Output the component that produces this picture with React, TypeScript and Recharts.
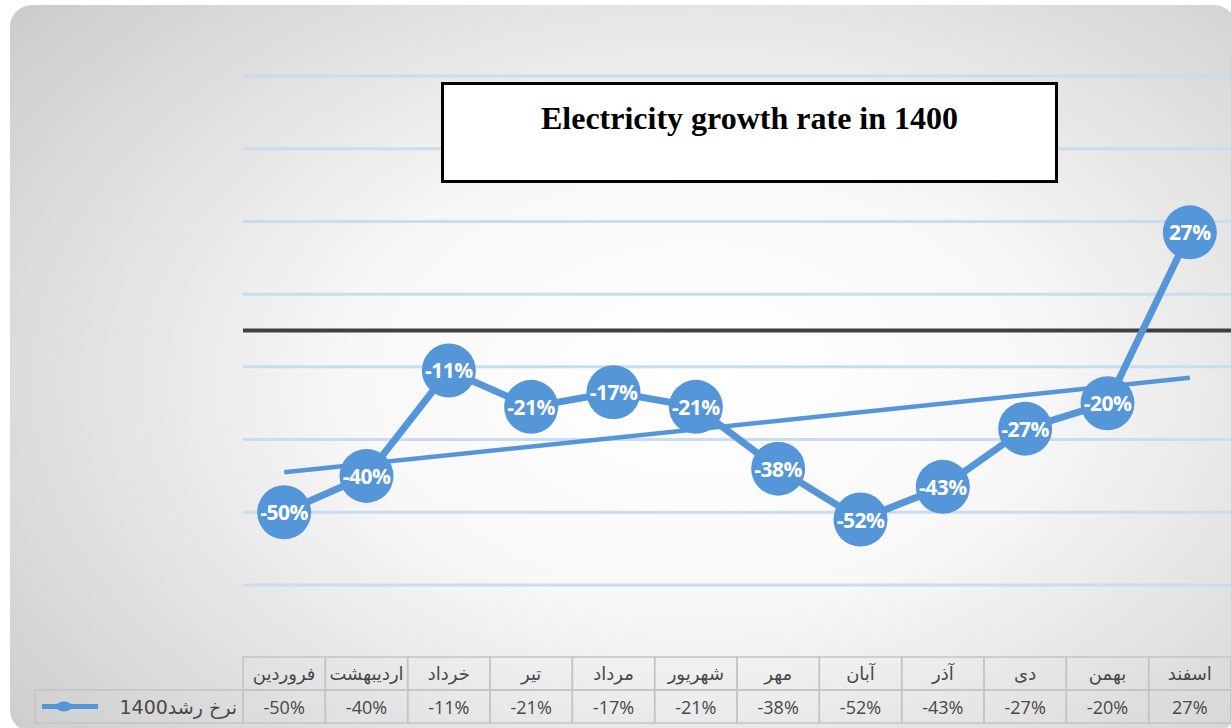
import React from 'react';
import {
  LineChart,
  Line,
  XAxis,
  YAxis,
  CartesianGrid,
  ReferenceLine,
} from 'recharts';

// month names (Persian calendar), left to right as in the table
const months = ['فروردین', 'اردیبهشت', 'خرداد', 'تیر', 'مرداد', 'شهریور', 'مهر', 'آبان', 'آذر', 'دی', 'بهمن', 'اسفند'];
// electricity growth rate 1400, percent
const growth = [-50, -40, -11, -21, -17, -21, -38, -52, -43, -27, -20, 27];
// linear trendline, read at first and last month
const trendStart = -39;
const trendEnd = -13;
const gridTicks = [-70, -50, -30, -10, 10, 30, 50, 70];
const seriesName = 'نرخ رشد1400';
const title = 'Electricity growth rate in 1400';

const data = months.map((m, i) => ({ month: m, rate: growth[i] }));

const W = 1231;
const H = 728;
const PLOT_LEFT = 243;
const PLOT_TOP = 76;
const PLOT_BOTTOM = 585;
const CELL_W = (W - PLOT_LEFT) / months.length;
const TABLE_TOP = 657;
const ROW_H = 33;

const BLUE = '#5596d8';
const GRID = '#c9dcf0';
const BORDER = '#c4c4c4';
const TEXT = '#484848';

const BubbleDot = (props: any) => {
  const { cx, cy, value, index } = props;
  if (cx == null || cy == null) return null;
  return (
    <g key={`dot-${index}`}>
      <circle cx={cx} cy={cy} r={27} fill={BLUE} />
      <text
        x={cx}
        y={cy}
        textAnchor="middle"
        dominantBaseline="central"
        fill="#fff"
        fontFamily="'Open Sans', sans-serif"
        fontWeight={700}
        fontSize={21}
        letterSpacing={-0.5}
      >
        {value}%
      </text>
    </g>
  );
};

const TableTick = (props: any) => {
  const { x, payload, index } = props;
  const left = x - CELL_W / 2;
  return (
    <g>
      <rect x={left} y={TABLE_TOP} width={CELL_W} height={ROW_H} fill="none" stroke={BORDER} strokeWidth={1.5} />
      <rect x={left} y={TABLE_TOP + ROW_H} width={CELL_W} height={ROW_H} fill="none" stroke={BORDER} strokeWidth={1.5} />
      <text
        x={x}
        y={TABLE_TOP + ROW_H / 2}
        textAnchor="middle"
        dominantBaseline="central"
        fill={TEXT}
        fontFamily="'DejaVu Sans', sans-serif"
        fontSize={18}
      >
        {payload.value}
      </text>
      <text
        x={x}
        y={TABLE_TOP + ROW_H * 1.5}
        textAnchor="middle"
        dominantBaseline="central"
        fill={TEXT}
        fontFamily="'Open Sans', sans-serif"
        fontSize={18}
      >
        {growth[index]}%
      </text>
    </g>
  );
};

const App: React.FC = () => {
  return (
    <div style={{ position: 'absolute', left: 0, top: 0, width: W, height: H, overflow: 'hidden', background: '#fff' }}>
      <div
        style={{
          position: 'absolute',
          left: 10,
          top: 5,
          width: 1226,
          height: 727,
          borderRadius: 22,
          background: 'radial-gradient(ellipse 72% 80% at 56% 52%, #ffffff 0%, #f8f8f8 38%, #dadada 80%, #cccccc 100%)',
        }}
      />
      <div style={{ position: 'absolute', left: 0, top: 0 }}>
        <LineChart
          width={W}
          height={H}
          data={data}
          margin={{ top: PLOT_TOP, right: 0, left: PLOT_LEFT, bottom: 0 }}
        >
          <CartesianGrid vertical={false} stroke={GRID} strokeWidth={3} />
          <XAxis
            dataKey="month"
            height={H - PLOT_BOTTOM}
            padding={{ left: CELL_W / 2, right: CELL_W / 2 }}
            axisLine={false}
            tickLine={false}
            interval={0}
            tick={<TableTick />}
          />
          <YAxis hide width={0} domain={[-70, 70]} ticks={gridTicks} />
          <ReferenceLine y={0} stroke="#404040" strokeWidth={4} />
          <ReferenceLine
            segment={[
              { x: months[0], y: trendStart },
              { x: months[months.length - 1], y: trendEnd },
            ]}
            stroke={BLUE}
            strokeWidth={4.5}
          />
          <Line
            type="linear"
            dataKey="rate"
            stroke={BLUE}
            strokeWidth={7}
            dot={<BubbleDot />}
            activeDot={false}
            isAnimationActive={false}
          />
        </LineChart>
      </div>
      {/* legend cell on the left of the data table */}
      <svg style={{ position: 'absolute', left: 0, top: 0 }} width={PLOT_LEFT + 2} height={H}>
        <rect x={35} y={TABLE_TOP + ROW_H} width={PLOT_LEFT - 35} height={ROW_H} fill="none" stroke={BORDER} strokeWidth={1.5} />
        <line x1={42} x2={98} y1={TABLE_TOP + ROW_H * 1.5} y2={TABLE_TOP + ROW_H * 1.5} stroke={BLUE} strokeWidth={5} />
        <ellipse cx={64} cy={TABLE_TOP + ROW_H * 1.5} rx={8} ry={5} fill={BLUE} />
        <text
          x={237}
          y={TABLE_TOP + ROW_H * 1.5}
          textAnchor="end"
          dominantBaseline="central"
          fill={TEXT}
          fontFamily="'DejaVu Sans', sans-serif"
          fontSize={19}
        >
          {seriesName}
        </text>
      </svg>
      <div
        style={{
          position: 'absolute',
          left: 441,
          top: 82,
          width: 611,
          height: 95,
          border: '3px solid #000',
          background: '#fff',
        }}
      >
        <div
          style={{
            position: 'absolute',
            left: 0,
            right: 0,
            top: 15,
            textAlign: 'center',
            fontFamily: "'Liberation Serif', 'Times New Roman', serif",
            fontWeight: 700,
            fontSize: 32,
            lineHeight: '36px',
            whiteSpace: 'nowrap',
          }}
        >
          {title}
        </div>
      </div>
    </div>
  );
};

export default App;
